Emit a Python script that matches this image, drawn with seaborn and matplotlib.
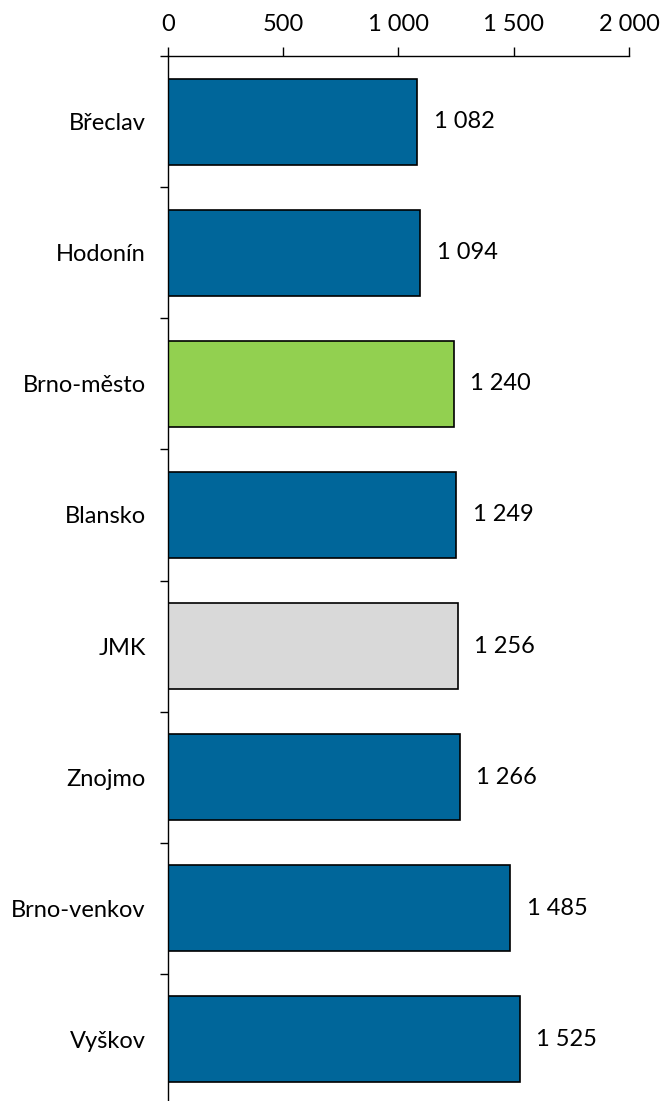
import matplotlib
matplotlib.use("Agg")
import matplotlib.pyplot as plt
import seaborn as sns
import pandas as pd
from matplotlib.ticker import FuncFormatter, FixedLocator

# Districts of the South Moravian Region and the regional total (JMK)
districts = ["Břeclav", "Hodonín", "Brno-město", "Blansko", "JMK", "Znojmo", "Brno-venkov", "Vyškov"]
values = [1082, 1094, 1240, 1249, 1256, 1266, 1485, 1525]
x_ticks = [0, 500, 1000, 1500, 2000]

BLUE = "#00669A"
GREEN = "#92D050"
GREY = "#D9D9D9"
bar_colors = {d: BLUE for d in districts}
bar_colors["Brno-město"] = GREEN
bar_colors["JMK"] = GREY

df = pd.DataFrame({"district": districts, "value": values})

sns.set_style("white")
plt.rcParams["font.family"] = ["Lato", "DejaVu Sans"]
FS = 17


def space_thousands(v, _pos=None):
    return f"{int(round(v)):,}".replace(",", " ")


fig = plt.figure(figsize=(6.64, 11.01), dpi=100)
ax = fig.add_axes([0.2530, -0.0032, 0.6943, 0.9519])

sns.barplot(
    data=df, y="district", x="value", hue="district", palette=bar_colors,
    legend=False, orient="h", width=0.66, saturation=1,
    edgecolor="black", linewidth=1.2, ax=ax,
)

ax.set_xlim(0, 2000)
ax.set_ylim(len(districts) - 0.5, -0.5)
ax.set_xlabel("")
ax.set_ylabel("")

# value axis on top
ax.xaxis.tick_top()
ax.xaxis.set_major_locator(FixedLocator(x_ticks))
ax.xaxis.set_major_formatter(FuncFormatter(space_thousands))
ax.tick_params(axis="x", which="major", direction="out", length=6.5, width=1,
               pad=9, labelsize=FS, colors="black")

# category ticks between bars
ax.yaxis.set_minor_locator(FixedLocator([i - 0.5 for i in range(len(districts) + 1)]))
ax.tick_params(axis="y", which="major", length=0, pad=16, labelsize=FS, colors="black")
ax.tick_params(axis="y", which="minor", direction="out", length=5.5, width=1, color="black", left=True)

for side in ["right", "bottom"]:
    ax.spines[side].set_visible(False)
for side in ["top", "left"]:
    ax.spines[side].set_visible(True)
    ax.spines[side].set_color("black")
    ax.spines[side].set_linewidth(1)

for cont in ax.containers:
    ax.bar_label(cont, labels=[space_thousands(b.get_width()) for b in cont],
                 padding=12, fontsize=FS, color="black")

fig.savefig("out.png", dpi=100)
